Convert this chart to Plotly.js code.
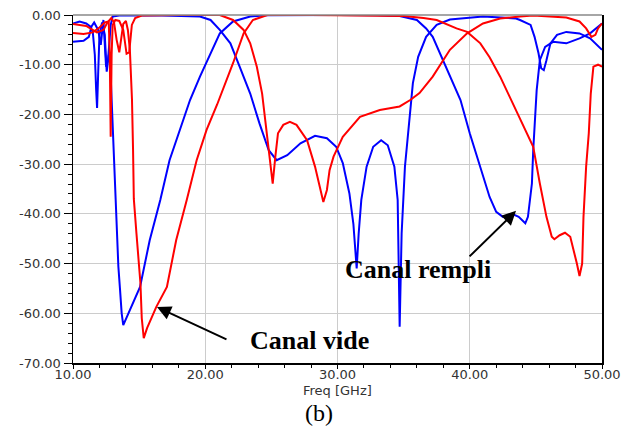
<!DOCTYPE html>
<html>
<head>
<meta charset="utf-8">
<script src="https://cdn.plot.ly/plotly-3.0.1.min.js"></script>
<style>html,body{margin:0;padding:0;background:#fff;}#chart{width:629px;height:430px;}</style>
</head>
<body>
<div id="chart"></div>
<script>
// Canal rempli (blue), curve A
const freqRempliA = [10, 10.5, 11.0, 11.3, 11.5, 11.65, 11.75, 11.82, 11.9, 12.0, 12.2, 12.4, 12.55, 12.7, 12.8, 12.92, 13.05, 13.3, 13.43, 13.55, 13.68, 13.8, 13.9, 14.56, 15.07, 15.8, 16.6, 17.3, 18.1, 18.85, 19.6, 20.4, 21.1, 22.1, 23.4, 24.6, 27, 30, 33, 34.7, 36.0, 36.7, 37.2, 38.0, 38.5, 39.3, 40.0, 40.8, 41.5, 42.0, 42.5, 43.2, 43.7, 44.2, 44.4, 44.7, 44.8, 45.06, 45.3, 45.7, 46.3, 47.3, 48.3, 49.1, 50];
const dbRempliA = [-1.7, -1.3, -1.7, -2.3, -3.5, -8, -15, -18.7, -12, -4, -1.5, -4, -11.4, -8, -9, -17, -27, -40.6, -50.6, -55, -60, -62.4, -61.8, -58, -54.7, -45.3, -37.2, -29.2, -23.1, -17.1, -12.4, -7.7, -3.7, -1.3, -0.3, -0.05, 0, 0, -0.05, -0.2, -1, -2.7, -4.4, -9.1, -12.4, -17.1, -23.8, -30.5, -36.6, -39.6, -40.6, -40, -40.6, -41.9, -40.6, -33.9, -27.2, -15.1, -9.1, -6.4, -5.4, -5.7, -4.7, -3.7, -1.7];
// Canal rempli (blue), curve B
const freqRempliB = [10, 10.8, 11.2, 11.4, 11.6, 11.9, 12.1, 12.3, 12.5, 12.65, 12.85, 13.0, 13.5, 16, 19.6, 20.4, 21.1, 21.9, 22.6, 23.4, 24.1, 24.8, 25.4, 26.2, 27.2, 28.3, 29.2, 29.9, 30.4, 30.9, 31.2, 31.45, 31.6, 31.8, 32.2, 32.7, 33.3, 33.8, 34.3, 34.55, 34.7, 34.85, 35.1, 35.5, 35.7, 36.1, 36.7, 37.5, 38.5, 41.0, 43.5, 43.8, 44.6, 44.9, 45.2, 45.4, 45.6, 45.8, 46.1, 46.6, 47.3, 48.3, 49.1, 50];
const dbRempliB = [-5.4, -5.2, -4.4, -2.3, -1.5, -3, -6, -1, -10.4, -9, -2, -0.3, -0.1, -0.05, -0.3, -1, -3, -5.7, -10.4, -15.8, -21.8, -27.2, -29.2, -28.2, -25.8, -24.3, -24.8, -26.5, -29.8, -35.9, -42, -51, -44, -37.2, -30.5, -26.5, -25.2, -26.2, -30.5, -37.2, -62.7, -43.9, -30.5, -18.5, -13.7, -8.4, -4.4, -2, -0.9, -0.3, -0.7, -1, -2, -4.4, -7.7, -10.7, -11.1, -9.1, -5.7, -4, -3.4, -3.7, -4.7, -7];
// Canal vide (red), curve C
const freqVideC = [10, 11, 11.8, 12.3, 12.6, 12.9, 13.1, 13.3, 13.5, 13.65, 13.8, 14.0, 14.15, 14.3, 14.46, 14.54, 14.6, 14.8, 15.1, 15.2, 15.35, 15.6, 16.3, 17.1, 17.8, 18.6, 19.35, 20.1, 20.9, 22.1, 22.9, 23.6, 24.7, 28, 33, 35, 36.5, 37.5, 39.0, 39.8, 40.8, 41.5, 42.3, 43.5, 44.8, 45.3, 45.8, 46.2, 46.4, 46.8, 47.2, 47.6, 47.8, 48.1, 48.3, 48.5, 48.6, 48.8, 49.0, 49.15, 49.35, 49.7, 50];
const dbVideC = [-1.8, -2.2, -3.5, -3.0, -1.5, -0.6, -1.5, -5, -7.5, -5, -1.8, -1.2, -3, -7, -17, -27, -37, -44, -54, -61, -65, -63, -58.7, -54.7, -45.3, -37.2, -29.2, -23.1, -18, -9.7, -3.7, -1, 0, 0, -0.05, -0.2, -0.6, -1, -2.7, -3.4, -5.7, -8.5, -12.4, -19.1, -26.5, -33.9, -40.6, -44.6, -45.1, -44.3, -43.8, -44.6, -46.6, -50, -52.5, -50, -40.6, -30.5, -23.8, -15.8, -10.4, -10, -10.4];
// Canal vide (red), curve D
const freqVideD = [10, 10.8, 11.5, 12.0, 12.4, 12.7, 12.78, 12.85, 12.92, 13.0, 13.2, 13.5, 13.8, 14.05, 14.25, 14.45, 14.7, 15.2, 18, 21.1, 22.1, 22.9, 23.4, 23.9, 24.3, 24.6, 24.9, 25.1, 25.3, 25.5, 25.9, 26.4, 26.9, 27.7, 28.3, 28.7, 28.93, 29.2, 29.4, 29.7, 30.4, 31.7, 33.2, 34.7, 35.5, 36.2, 37.2, 38.5, 39.8, 41.0, 42.3, 43.8, 44.8, 47.3, 48.3, 48.8, 49.2, 49.5, 49.7, 50];
const dbVideD = [-3.6, -3.8, -3.5, -2.5, -1.5, -1.3, -8, -24.5, -8, -2, -1, -1.2, -3, -7.8, -7.5, -2, -0.6, -0.1, 0, 0, -1, -3, -5.7, -10.4, -15.8, -22.5, -28.5, -33.9, -28.5, -23.8, -22.1, -21.5, -22.1, -25.2, -30.5, -35.2, -37.6, -35.2, -31.2, -28.5, -24.5, -20.5, -19.1, -18.4, -17.1, -15.7, -12.4, -7, -3.7, -1.7, -0.7, -0.3, -0.1, -0.5, -1.3, -2.7, -4.4, -4, -2.7, -1.7];

const xTickVals = [10, 20, 30, 40, 50];
const xTickText = ['10.00', '20.00', '30.00', '40.00', '50.00'];
const yTickVals = [0, -10, -20, -30, -40, -50, -60, -70];
const yTickText = ['0.00', '-10.00', '-20.00', '-30.00', '-40.00', '-50.00', '-60.00', '-70.00'];

const blue = '#0000ff', red = '#ff0000';
const traces = [
  {x: freqRempliA, y: dbRempliA, mode: 'lines', line: {color: blue, width: 2}},
  {x: freqRempliB, y: dbRempliB, mode: 'lines', line: {color: blue, width: 2}},
  {x: freqVideD, y: dbVideD, mode: 'lines', line: {color: red, width: 2}},
  {x: freqVideC, y: dbVideC, mode: 'lines', line: {color: red, width: 2}}
];

const tickFont = {family: 'DejaVu Sans', size: 13, color: '#333'};
const layout = {
  width: 629, height: 430,
  margin: {l: 73, r: 27, t: 15, b: 67},
  paper_bgcolor: '#fff', plot_bgcolor: '#fff',
  showlegend: false,
  xaxis: {
    range: [10, 50], tickmode: 'array', tickvals: xTickVals, ticktext: xTickText,
    ticks: 'outside', ticklen: 4, tickcolor: '#000', tickwidth: 1, ticklabelstandoff: -5,
    showline: true, linecolor: '#000', linewidth: 1.5,
    showgrid: true, gridcolor: '#cccccc', gridwidth: 1, zeroline: false,
    tickfont: tickFont,
    minor: {tickmode: 'linear', tick0: 10, dtick: 2, ticks: 'outside', ticklen: 3, tickcolor: '#000', showgrid: false}
  },
  yaxis: {
    range: [-70, 0], tickmode: 'array', tickvals: yTickVals, ticktext: yTickText,
    ticks: 'outside', ticklen: 8, tickcolor: '#000', tickwidth: 1,
    showline: true, linecolor: '#000', linewidth: 1.5, mirror: true,
    showgrid: true, gridcolor: '#cccccc', gridwidth: 1, zeroline: false,
    tickfont: tickFont,
    minor: {tickmode: 'linear', tick0: 0, dtick: 2, ticks: 'outside', ticklen: 4, tickcolor: '#000', showgrid: false}
  },
  shapes: [
    {type: 'line', xref: 'paper', yref: 'paper', x0: 0, x1: 1, y0: 1, y1: 1, line: {color: '#888', width: 1.5}}
  ],
  annotations: [
    {x: 16.35, y: -58.75, xref: 'x', yref: 'y', text: '', showarrow: true, ax: 71, ay: 33,
     arrowhead: 2, arrowsize: 1.4, arrowwidth: 2, arrowcolor: '#000', standoff: 0},
    {x: 43.5, y: -39.4, xref: 'x', yref: 'y', text: '', showarrow: true, ax: -48, ay: 47,
     arrowhead: 2, arrowsize: 1.4, arrowwidth: 2, arrowcolor: '#000', standoff: 0},
    {x: 27.85, y: -65.4, xref: 'x', yref: 'y', text: '<b>Canal vide</b>', showarrow: false,
     font: {family: 'Liberation Serif', size: 26, color: '#000'}},
    {x: 36.09, y: -51.1, xref: 'x', yref: 'y', text: '<b>Canal rempli</b>', showarrow: false,
     font: {family: 'Liberation Serif', size: 26, color: '#000'}},
    {x: 0.5, y: -0.0776, xref: 'paper', yref: 'paper', text: 'Freq [GHz]', showarrow: false,
     yanchor: 'middle', borderpad: 0, font: {family: 'DejaVu Sans', size: 13, color: '#333'}},
    {x: 0.465, y: -0.1437, xref: 'paper', yref: 'paper', text: '(b)', showarrow: false,
     yanchor: 'middle', font: {family: 'Liberation Serif', size: 24, color: '#000'}}
  ]
};

Plotly.newPlot('chart', traces, layout, {displayModeBar: false, staticPlot: true});
</script>
</body>
</html>
